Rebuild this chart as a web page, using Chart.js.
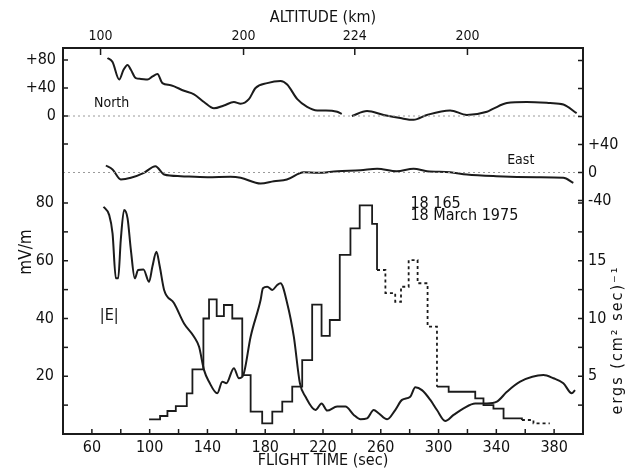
<!DOCTYPE html>
<html><head><meta charset="utf-8">
<script src="https://cdn.jsdelivr.net/npm/chart.js@4.4.1/dist/chart.umd.min.js"></script>
<style>html,body{margin:0;padding:0;background:#fff;}canvas{display:block;}</style>
</head><body>
<canvas id="c" width="628" height="469"></canvas>
<script>
// ---- tick labels ----
const timeTicks = [60,100,140,180,220,260,300,340,380];
const timeMarks = [60,80,100,120,140,160,180,200,220,240,260,280,300,320,340,360,380];
const altTickTimes = [66,165,242,320];
const altTickLabels = ['100','200','224','200'];
const northTicks = [0,40,80];
const northMarks = [-40,0,40,80];
const eastTicks = [-40,0,40];
const eastMarks = [-40,0,40,80,120,160];
const fieldTicks = [20,40,60,80];
const fieldMarks = [10,20,30,40,50,60,70,80];
const fluxTicks = [5,10,15];
const fluxMarks = [2.5,5,7.5,10,12.5,15,17.5,20];

// ---- North component (mV/m) ----
const northT = [70.8,74.3,78.9,81.9,84.7,87,90.4,93.9,98.5,102,105.4,108.8,114.6,123.8,130.7,137.6,144.5,151.4,158.3,163,168.7,173.3,181.4,190.6,195.2,202.2,209,216,222,229.8,233,236,240,250.5,262,273.5,282.7,292,308,319.6,333.5,338,347.3,361,377.2,386.4,395.6];
const northV = [83,77,52,66,73,66,54,53,52,56.5,60,47,44,36,31,20,11,15,20,17.5,24,40,47,50,45,24,13,8,8,6,3,null,0,7,1.5,-3,-5.5,1.5,8,1.5,6,10.5,18.5,20,18.5,16.5,4];

// ---- East component (mV/m) ----
const eastT = [69.7,74.3,80,87,96,104,110,121.5,140,156,163,176.8,186,195,206.7,216,230,246,257.5,271,282.7,292,308,319.6,340,368,386.4,393.3];
const eastV = [10,4.3,-10,-7.6,-0.5,9,-2.9,-5.3,-6.7,-6.2,-7.6,-15.7,-12.4,-10,0.4,-0.5,1.9,3.3,5.3,1.9,5.3,1.9,0.4,-2.9,-5.3,-6.7,-7.6,-14.7];

// ---- |E| (mV/m) ----
const fieldT = [68.1,72,74.3,76.6,78.2,80,82.3,84.7,87,89.7,92,95.7,99.6,101.9,104.7,107,110,116.9,123.8,130.7,134.2,137.6,141.1,146.8,150.3,153.1,158.3,161.8,164.8,169.9,176.8,178.4,181.4,184.9,188.3,190.6,195.2,199.8,204,207.9,214.8,219,222.9,229.8,235.5,241.3,246,250.5,255.1,258.5,264.4,270,274.7,280.4,283.9,288.5,294.3,298.9,304.6,310.4,317.3,325.4,333.5,340.4,347.3,356.5,372.6,379.5,386.4,392.2,394.5];
const fieldV = [78.7,75.8,69.5,53.9,53.9,67.2,77.6,74.7,63.7,53.9,56.8,57,52.7,58,63.1,58,49.9,45.3,38.3,33.7,30.2,22.2,18.1,14.1,18.1,17.6,22.8,19.3,20.4,33.7,46.4,50.5,51,49.9,51.6,52.2,45.3,33.7,17.6,12.9,8.3,10.6,8.1,9.5,9.5,6.6,5.1,5.4,8.3,7.2,5.1,8.3,11.8,12.9,16.2,15.2,11.8,8.3,4.5,6.6,8.9,10.6,10.6,11.2,14.6,18.1,20.4,19.3,17.6,14.1,15.2];

// ---- energy flux (ergs cm^-2 s^-1), step start times ----
const fluxT = [99.6,107.2,112.3,118.1,125.7,129.6,137.2,141.1,146.4,151.4,157.2,164.1,169.9,177.9,184.9,191.8,198.7,205.6,212.5,219,224.7,231.6,239,245.4,254,257.4,263.2,270,274,279.3,285.5,292.4,298.9,307,325.4,331.1,338,345,357.7,365.7,377];
const fluxV = [1.27,1.56,1.99,2.42,3.52,5.6,10.0,11.66,10.2,11.17,10.0,5.1,1.93,0.92,1.93,2.8,4.1,6.4,11.2,8.5,9.87,15.5,17.8,19.8,18.2,14.2,12.2,11.45,12.75,15.06,13.05,9.3,4.1,3.66,3.09,2.5,2.2,1.36,1.21,0.92,0.92];

const pts = (T,V) => T.map((t,i)=>({x:t,y:V[i]}));
const FONT = '"Liberation Sans Narrow", "DejaVu Sans Condensed", "Liberation Sans", Arial, sans-serif';
Chart.defaults.font.family = FONT;
Chart.defaults.color = '#111';
const INK = '#1b1b1b';

const noGrid = {display:false, drawTicks:false};
const noBorder = {display:false};

const notes = [
  {text:'North', t:61.5, v:12.9, axis:'yN', size:14},
  {text:'East', t:347.5, v:12, axis:'yE', size:14},
  {text:'|E|', t:65.5, v:39.5, axis:'yMV', size:16},
  {text:'18 165', t:280.5, v:19.55, axis:'yErg', size:16},
  {text:'18 March 1975', t:280.5, v:18.5, axis:'yErg', size:16}
];

const decor = {
  id:'decor',
  afterDraw(chart){
    const {ctx, chartArea:a, scales:s} = chart;
    ctx.save();
    ctx.strokeStyle = INK; ctx.lineWidth = 1.5;
    const L = 5;
    const seg = (x1,y1,x2,y2)=>{ctx.beginPath();ctx.moveTo(x1,y1);ctx.lineTo(x2,y2);ctx.stroke();};
    timeMarks.forEach(v=>{const x=s.x.getPixelForValue(v); seg(x,a.bottom,x,a.bottom-L);});
    altTickTimes.forEach(v=>{const x=s.x2.getPixelForValue(v); seg(x,a.top,x,a.top+L+2);});
    northMarks.forEach(v=>{const y=s.yN.getPixelForValue(v); seg(a.left,y,a.left+L,y);});
    fieldMarks.forEach(v=>{const y=s.yMV.getPixelForValue(v); seg(a.left,y,a.left+L,y);});
    eastMarks.forEach(v=>{const y=s.yE.getPixelForValue(v); seg(a.right,y,a.right-L,y);});
    fluxMarks.forEach(v=>{const y=s.yErg.getPixelForValue(v); seg(a.right,y,a.right-L,y);});
    ctx.lineWidth = 2;
    ctx.strokeRect(a.left, a.top, a.right-a.left, a.bottom-a.top);
    ctx.fillStyle = '#111';
    ctx.textBaseline = 'alphabetic';
    ctx.textAlign = 'left';
    notes.forEach(n=>{
      ctx.font = n.size+'px '+FONT;
      ctx.fillText(n.text, s.x.getPixelForValue(n.t), s[n.axis].getPixelForValue(n.v));
    });
    ctx.textAlign = 'center'; ctx.textBaseline = 'middle';
    ctx.font = '17px '+FONT;
    ctx.save(); ctx.translate(27,252); ctx.rotate(-Math.PI/2); ctx.fillText('mV/m',0,0); ctx.restore();
    ctx.font = '16px '+FONT;
    ctx.save(); ctx.translate(618,340); ctx.rotate(-Math.PI/2);
    try { ctx.letterSpacing = '2px'; } catch(e) {}
    ctx.fillText('ergs (cm\u00B2 sec)\u207B\u00B9',0,0); ctx.restore();
    ctx.restore();
  }
};

const curve = {pointRadius:0, borderColor:INK, borderWidth:2, cubicInterpolationMode:'monotone', clip:false};

new Chart(document.getElementById('c'), {
  type:'line',
  data:{datasets:[
    {data:[{x:40,y:0},{x:400,y:0}], yAxisID:'yN', borderColor:'#9a9a9a', borderWidth:1, borderDash:[2,3], pointRadius:0},
    {data:[{x:40,y:0},{x:400,y:0}], yAxisID:'yE', borderColor:'#9a9a9a', borderWidth:1, borderDash:[2,3], pointRadius:0},
    {label:'North', data:pts(northT,northV), yAxisID:'yN', ...curve, spanGaps:false},
    {label:'East', data:pts(eastT,eastV), yAxisID:'yE', ...curve},
    {label:'|E|', data:pts(fieldT,fieldV), yAxisID:'yMV', ...curve},
    {label:'flux', data:pts(fluxT,fluxV), yAxisID:'yErg', borderColor:INK, borderWidth:1.8, pointRadius:0, stepped:'before', clip:false,
      segment:{borderDash: c => { const x=c.p0.parsed.x; return ((x>=257 && x<298) || x>=357) ? [3,3] : undefined; }}}
  ]},
  options:{
    responsive:false, animation:false, devicePixelRatio:1,
    layout:{padding:0},
    plugins:{legend:{display:false}, tooltip:{enabled:false}},
    scales:{
      x:{type:'linear', position:'bottom', min:40, max:400, grid:noGrid, border:noBorder,
        ticks:{autoSkip:false, maxRotation:0, padding:4, font:{size:16}, callback:v=>String(v)},
        afterBuildTicks:sc=>{sc.ticks = timeTicks.map(v=>({value:v}));},
        title:{display:true, text:'FLIGHT TIME (sec)', font:{size:16}, padding:{top:0,bottom:-1}},
        afterFit:sc=>{sc.height=35;}},
      x2:{type:'linear', position:'top', min:40, max:400, grid:noGrid, border:noBorder,
        ticks:{autoSkip:false, maxRotation:0, padding:3, font:{size:14}, callback:(v,i)=>altTickLabels[i]},
        afterBuildTicks:sc=>{sc.ticks = altTickTimes.map(v=>({value:v}));},
        title:{display:true, text:'ALTITUDE (km)', font:{size:16}, padding:{top:8,bottom:0}},
        afterFit:sc=>{sc.height=48;}},
      yMV:{type:'linear', position:'left', stack:'L', stackWeight:244, min:0, max:84.5, grid:noGrid, border:noBorder,
        ticks:{padding:9, font:{size:16}, callback:v=>String(v)},
        afterBuildTicks:sc=>{sc.ticks = fieldTicks.map(v=>({value:v}));},
        afterFit:sc=>{sc.width=63;}},
      yN:{type:'linear', position:'left', stack:'L', stackWeight:142, min:-105.71, max:97.14, grid:noGrid, border:noBorder,
        ticks:{padding:7, font:{size:16}, callback:v=> v>0 ? '+'+v : String(v)},
        afterBuildTicks:sc=>{sc.ticks = northTicks.map(v=>({value:v}));},
        afterFit:sc=>{sc.width=63;}},
      yE:{type:'linear', position:'right', stack:'R', stackWeight:158, min:-47.86, max:177.86, grid:noGrid, border:noBorder,
        ticks:{padding:5, font:{size:16}, callback:v=> v>0 ? '+'+v : String(v)},
        afterBuildTicks:sc=>{sc.ticks = eastTicks.map(v=>({value:v}));},
        afterFit:sc=>{sc.width=45;}},
      yErg:{type:'linear', position:'right', stack:'R', stackWeight:228, min:0, max:19.74, grid:noGrid, border:noBorder,
        ticks:{padding:5, font:{size:16}, callback:v=>String(v)},
        afterBuildTicks:sc=>{sc.ticks = fluxTicks.map(v=>({value:v}));},
        afterFit:sc=>{sc.width=45;}}
    }
  },
  plugins:[decor]
});
</script></body></html>
